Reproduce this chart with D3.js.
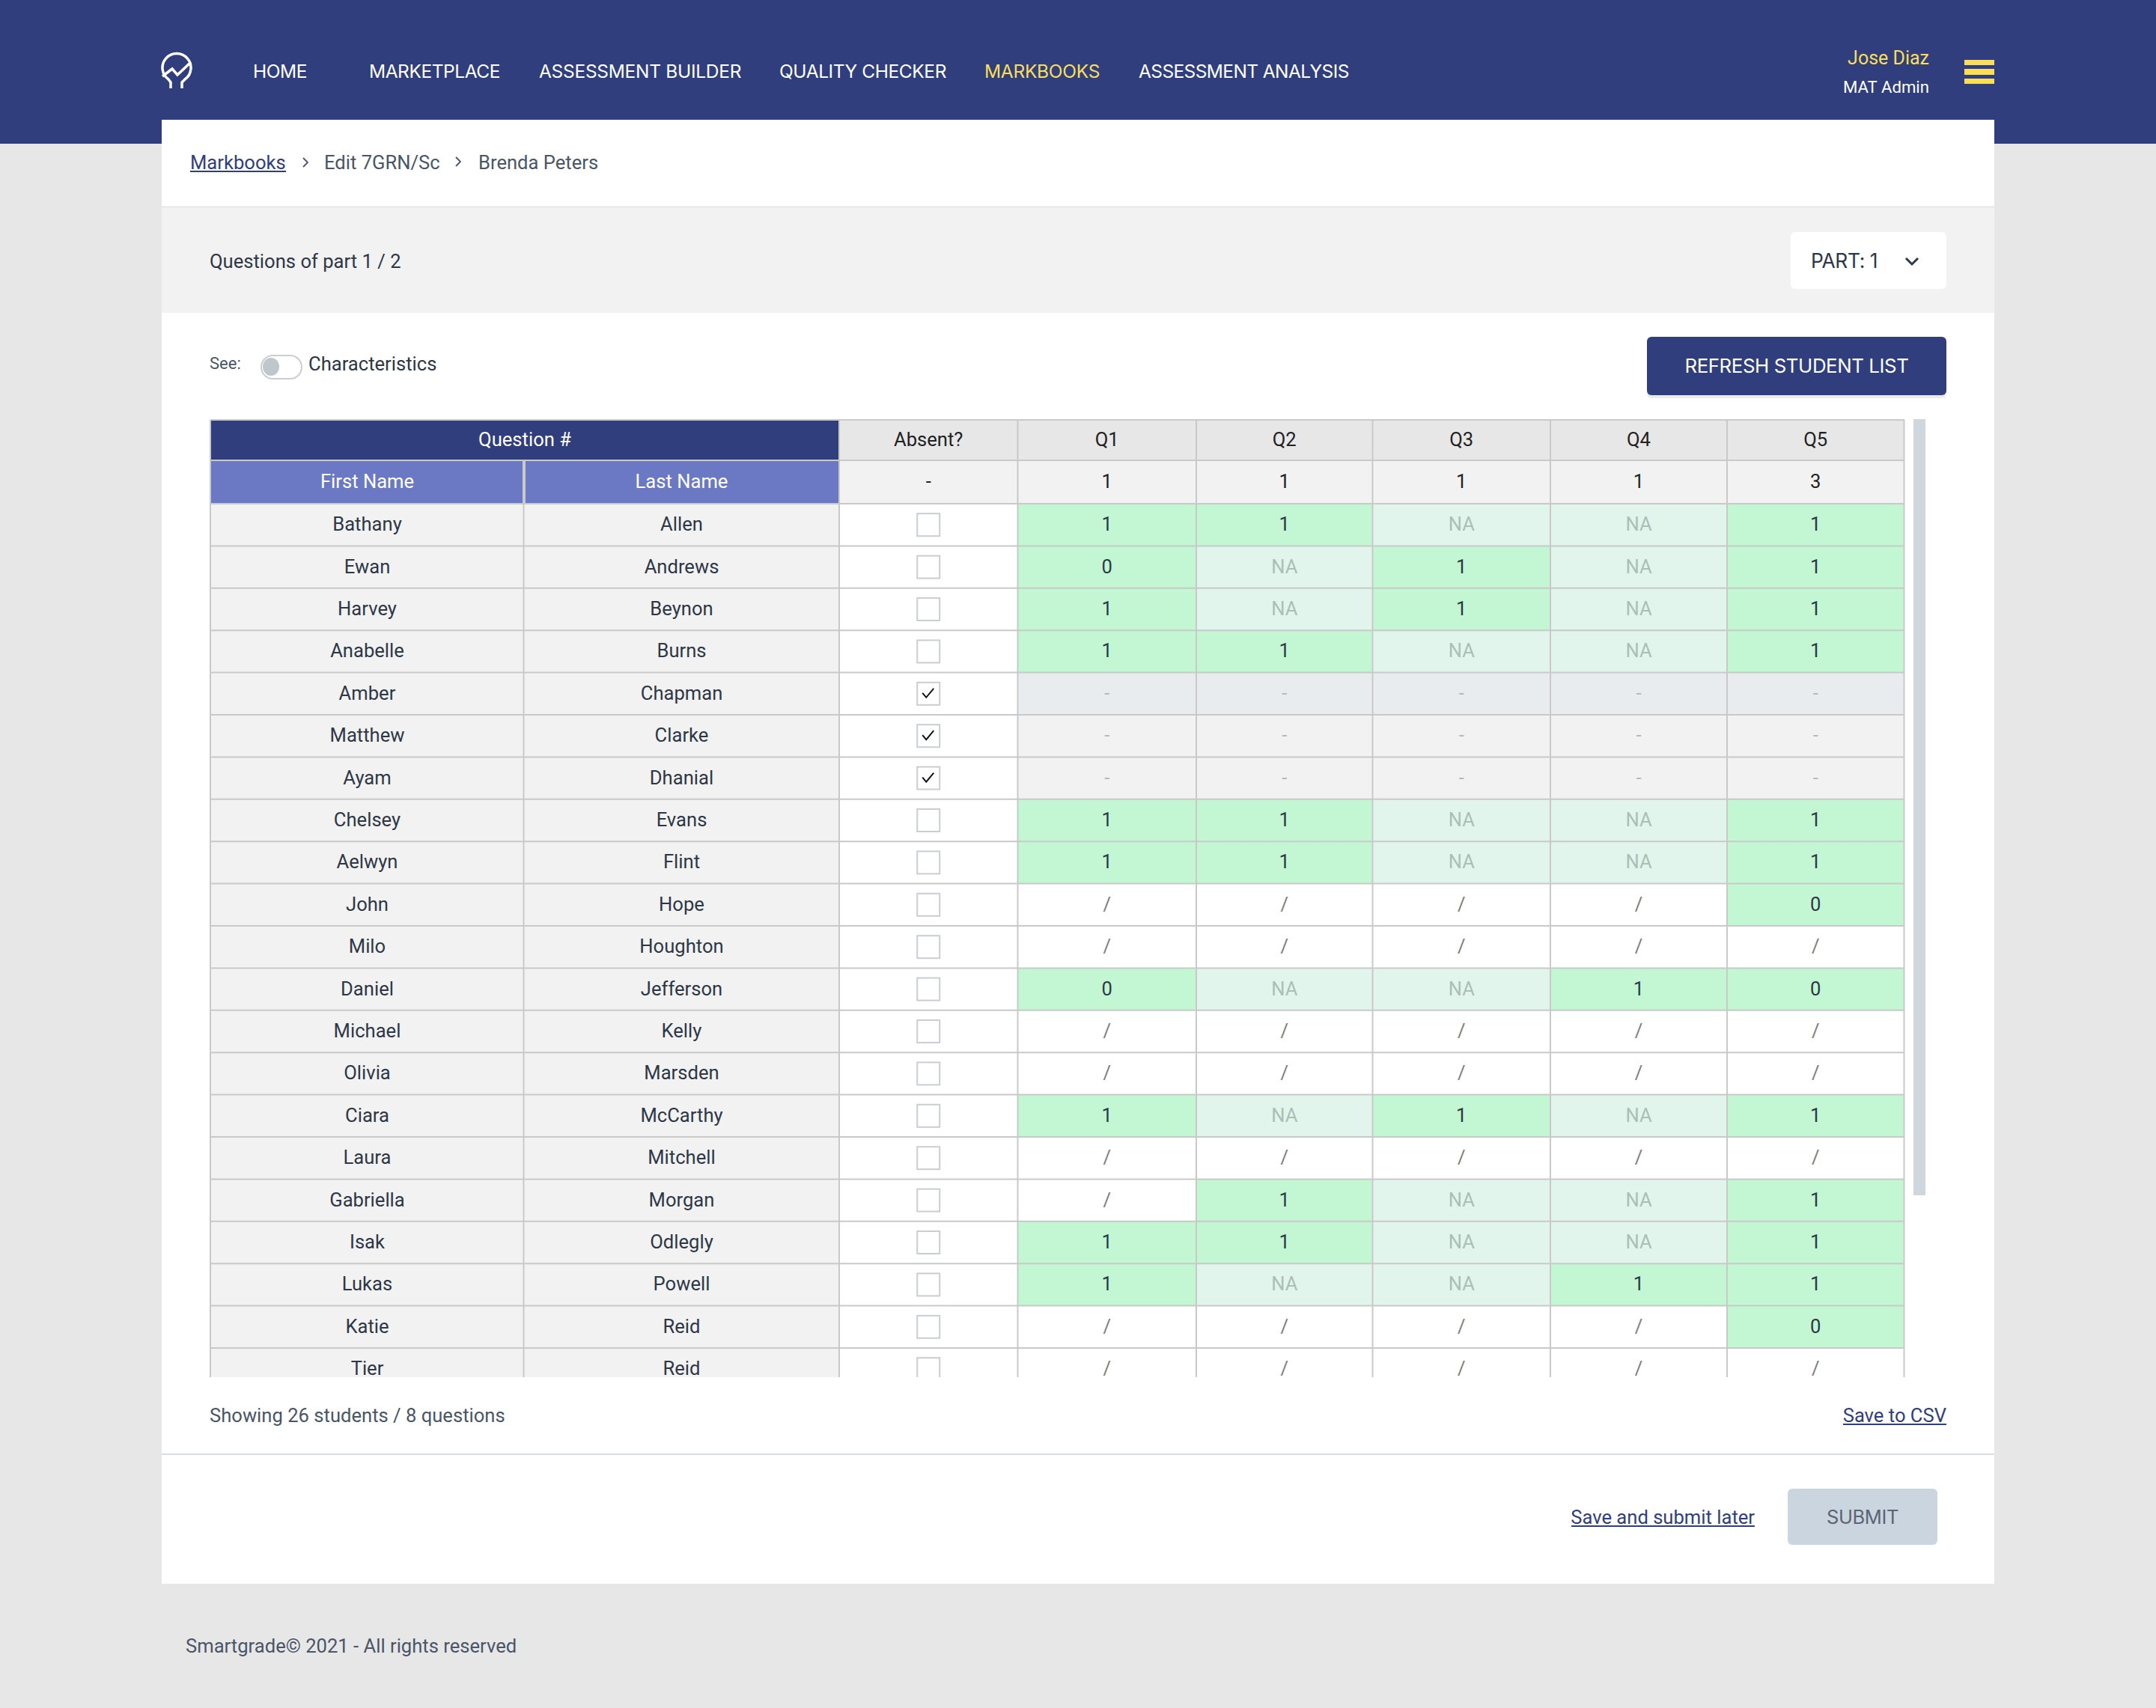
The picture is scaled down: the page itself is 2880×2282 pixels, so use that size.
<!DOCTYPE html>
<html>
<head>
  <meta charset="utf-8">
  <script src="https://d3js.org/d3.v7.min.js"></script>
  <style>
    html, body { margin: 0; padding: 0; background: #e7e7e7; }
    svg { display: block; }
    text { font-family: Roboto, sans-serif; fill: #2d3748; }
    .nav { font-family: Inter, sans-serif; letter-spacing: -0.4px; }
  </style>
</head>
<body>
<script>
// nav + page text
var navLabels = ["HOME", "MARKETPLACE", "ASSESSMENT BUILDER", "QUALITY CHECKER", "MARKBOOKS", "ASSESSMENT ANALYSIS"];
var navStarts = [338, 493, 720, 1041, 1315, 1521];
var navWidths = [72, 175, 270, 223, 154, 281];
var activeNav = "MARKBOOKS";

// table
var questions = ["Q1", "Q2", "Q3", "Q4", "Q5"];
var maxMarks = ["1", "1", "1", "1", "3"];
var firstNames = ["Bathany", "Ewan", "Harvey", "Anabelle", "Amber", "Matthew", "Ayam", "Chelsey", "Aelwyn", "John", "Milo", "Daniel", "Michael", "Olivia", "Ciara", "Laura", "Gabriella", "Isak", "Lukas", "Katie", "Tier"];
var lastNames = ["Allen", "Andrews", "Beynon", "Burns", "Chapman", "Clarke", "Dhanial", "Evans", "Flint", "Hope", "Houghton", "Jefferson", "Kelly", "Marsden", "McCarthy", "Mitchell", "Morgan", "Odlegly", "Powell", "Reid", "Reid"];
var absent = [0, 0, 0, 0, 1, 1, 1, 0, 0, 0, 0, 0, 0, 0, 0, 0, 0, 0, 0, 0, 0];
var q1 = ["1", "0", "1", "1", "-", "-", "-", "1", "1", "/", "/", "0", "/", "/", "1", "/", "/", "1", "1", "/", "/"];
var q2 = ["1", "NA", "NA", "1", "-", "-", "-", "1", "1", "/", "/", "NA", "/", "/", "NA", "/", "1", "1", "NA", "/", "/"];
var q3 = ["NA", "1", "1", "NA", "-", "-", "-", "NA", "NA", "/", "/", "NA", "/", "/", "1", "/", "NA", "NA", "NA", "/", "/"];
var q4 = ["NA", "NA", "NA", "NA", "-", "-", "-", "NA", "NA", "/", "/", "1", "/", "/", "NA", "/", "NA", "NA", "1", "/", "/"];
var q5 = ["1", "1", "1", "1", "-", "-", "-", "1", "1", "0", "/", "0", "/", "/", "1", "/", "1", "1", "1", "0", "/"];
var marks = [q1, q2, q3, q4, q5];
var highlightedRow = 4; // row under the mouse in the screenshot

var navy = "#303e7d", blue = "#6b79c5", yellow = "#f9de5b", line = "#c9c9c9", body = 25.6;

var svg = d3.select("body").append("svg")
  .attr("width", 2880)
  .attr("height", 2282);

function rect(x, y, w, h, fill, r) {
  return svg.append("rect").attr("x", x).attr("y", y).attr("width", w).attr("height", h)
    .attr("fill", fill).attr("rx", r || 0);
}
function label(x, y, t, size, color, anchor, parent) {
  return (parent || svg).append("text").attr("x", x).attr("y", y).text(t)
    .style("font-size", size + "px").style("fill", color)
    .attr("text-anchor", anchor || "start");
}
function link(x1, x2, y) {
  svg.append("line").attr("x1", x1).attr("x2", x2).attr("y1", y).attr("y2", y)
    .attr("stroke", navy).attr("stroke-width", 2);
}
function chevron(cx, cy, s, color, w, down) {
  var p = down ? [[cx - s, cy - s / 2], [cx, cy + s / 2], [cx + s, cy - s / 2]]
               : [[cx - s / 2, cy - s], [cx + s / 2, cy], [cx - s / 2, cy + s]];
  svg.append("path").attr("d", d3.line()(p)).attr("fill", "none").attr("stroke", color).attr("stroke-width", w);
}

/* page frame */
rect(0, 0, 2880, 192, navy);
rect(216, 160, 2448, 1956, "#fff");
rect(216, 275, 2448, 3, "#ececec");
rect(216, 278, 2448, 140, "#f2f2f2");
rect(216, 1942, 2448, 2, "#d8dee6");

/* nav */
svg.selectAll(".nav").data(navLabels).enter().append("text")
  .attr("class", "nav")
  .attr("x", function(d, i) { return navStarts[i]; })
  .attr("y", 104)
  .attr("textLength", function(d, i) { return navWidths[i]; })
  .style("font-size", "24.5px")
  .style("fill", function(d) { return d === activeNav ? yellow : "#fff"; })
  .text(function(d) { return d; });

// logo
var logo = svg.append("g").attr("fill", "none").attr("stroke", "#fff").attr("stroke-width", 3.5);
logo.append("path").attr("d", "M228 118V110L225 106A19 19 0 1 1 247 106L243 110V118");
logo.append("path").attr("d", "M217 102L230 92L237 100L255 83");

label(2577, 86, "Jose Diaz", 25, yellow, "end");
label(2577, 124, "MAT Admin", 22.2, "#fff", "end");
rect(2624, 80, 40, 7, yellow);
rect(2624, 92, 40, 8, yellow);
rect(2624, 105, 40, 7, yellow);

/* breadcrumb */
label(254, 226, "Markbooks", body, navy);
link(254, 382, 229);
chevron(408, 217, 6, "#4a5568", 1.8);
label(433, 226, "Edit 7GRN/Sc", body, "#4a5568");
chevron(612, 216, 6, "#4a5568", 1.8);
label(639, 226, "Brenda Peters", body, "#4a5568");

/* part bar */
label(280, 358, "Questions of part 1 / 2", body, "#2d3748");
rect(2392, 310, 208, 76, "#fff", 6);
label(2419, 358, "PART: 1", 26.4, "#2d3748").attr("class", "nav");
chevron(2554, 349, 8, "#2d3748", 3, true);

/* toggle row */
label(280, 493, "See:", 22, "#4a5568");
svg.append("rect").attr("x", 349).attr("y", 475).attr("width", 54).attr("height", 31).attr("rx", 15.5)
  .attr("fill", "#fff").attr("stroke", "#c9ced3").attr("stroke-width", 2);
svg.append("ellipse").attr("cx", 362).attr("cy", 490).attr("rx", 11).attr("ry", 12).attr("fill", "#bfc6cc");
label(412, 495, "Characteristics", body, "#2d3748");
svg.append("rect").attr("x", 2200).attr("y", 452).attr("width", 400).attr("height", 80).attr("rx", 6)
  .attr("fill", "#000").attr("opacity", 0.08);
rect(2200, 450, 400, 78, navy, 6);
label(2400, 498, "REFRESH STUDENT LIST", 25.8, "#fff", "middle").attr("class", "nav");

/* table */
var tableTop = 561, headerY = 615, bodyY = 673, clipY = 1840, textDrop = 8;
var colKeys = ["Absent?"].concat(questions);
var nameKeys = ["First Name", "Last Name"];
var nameEdges = [281, 700, 1121];
var colEdges = [1121, 1359.5, 1598, 1833.5, 2071, 2307, 2543.5];
var nameX = d3.scaleOrdinal().domain(nameKeys).range(nameEdges.slice(0, -1));
var nameW = d3.scaleOrdinal().domain(nameKeys).range(d3.pairs(nameEdges).map(function(p) { return p[1] - p[0]; }));
var x = d3.scaleOrdinal().domain(colKeys).range(colEdges.slice(0, -1));
var w = d3.scaleOrdinal().domain(colKeys).range(d3.pairs(colEdges).map(function(p) { return p[1] - p[0]; }));
var y = d3.scaleBand().domain(d3.range(firstNames.length)).range([bodyY, bodyY + 56.4 * firstNames.length]);

svg.append("clipPath").attr("id", "clip").append("rect").attr("x", 270).attr("y", tableTop - 5).attr("width", 2290).attr("height", clipY - tableTop + 5);
var table = svg.append("g").attr("clip-path", "url(#clip)");

function cell(px, py, cw, ch, fill) {
  table.append("rect").attr("x", px).attr("y", py).attr("width", cw).attr("height", ch).attr("fill", fill);
}
function cellText(cx, py, ch, t, color) {
  label(cx, py + ch / 2 + textDrop, t, body, color, "middle", table);
}

// header cells
cell(281, tableTop, 840, headerY - tableTop, navy);
cellText(701, tableTop, headerY - tableTop, "Question #", "#fff");
nameKeys.forEach(function(k) {
  cell(nameX(k), headerY, nameW(k), bodyY - headerY, blue);
  cellText(nameX(k) + nameW(k) / 2, headerY, bodyY - headerY, k, "#fff");
});
colKeys.forEach(function(k, i) {
  cell(x(k), tableTop, w(k), headerY - tableTop, "#e7e7e7");
  cell(x(k), headerY, w(k), bodyY - headerY, "#f2f2f2");
  cellText(x(k) + w(k) / 2, tableTop, headerY - tableTop, k, "#222");
  cellText(x(k) + w(k) / 2, headerY, bodyY - headerY, i === 0 ? "-" : maxMarks[i - 1], "#222");
});

function cellStyle(v, row) {
  if (v === "NA") return { fill: "#e2f5ec", color: "#abbfb6" };
  if (v === "-") return { fill: row === highlightedRow ? "#e9ecef" : "#f2f2f2", color: "#b4b9be" };
  if (v === "/") return { fill: "#fff", color: "#7d7d7d" };
  return { fill: "#c3f7d3", color: "#2d3748" };
}

// body rows
firstNames.forEach(function(name, r) {
  var ry = y(r), rh = y.bandwidth();
  cell(281, ry, 840, rh, "#f2f2f2");
  cellText(nameX("First Name") + nameW("First Name") / 2, ry, rh, name, "#2d3748");
  cellText(nameX("Last Name") + nameW("Last Name") / 2, ry, rh, lastNames[r], "#2d3748");
  cell(x("Absent?"), ry, w("Absent?"), rh, "#fff");
  marks.forEach(function(series, q) {
    var s = cellStyle(series[r], r);
    var k = questions[q];
    cell(x(k), ry, w(k), rh, s.fill);
    cellText(x(k) + w(k) / 2, ry, rh, series[r], s.color);
  });
  // checkbox
  var bx = x("Absent?") + w("Absent?") / 2, by = ry + rh / 2;
  table.append("rect").attr("x", bx - 15).attr("y", by - 15).attr("width", 30).attr("height", 30)
    .attr("fill", "#fff").attr("stroke", "#c9ced3").attr("stroke-width", 2);
  if (absent[r]) {
    table.append("path").attr("d", d3.line()([[bx - 8, by - 1], [bx - 3, by + 5], [bx + 7, by - 7]]))
      .attr("fill", "none").attr("stroke", "#111").attr("stroke-width", 2);
  }
});

// grid lines
var bottom = bodyY + 56.4 * firstNames.length;
function gridV(px, y1, color) {
  table.append("line").attr("x1", px).attr("x2", px).attr("y1", y1).attr("y2", bottom).attr("stroke", color || line).attr("stroke-width", 2);
}
function gridH(py, x1, x2) {
  table.append("line").attr("x1", x1).attr("x2", x2).attr("y1", py).attr("y2", py).attr("stroke", line).attr("stroke-width", 2);
}
gridH(tableTop, 281, 2544);
gridH(headerY, 281, 2544);
d3.range(0, firstNames.length + 1).forEach(function(r) { gridH(bodyY + 56.4 * r, 281, 2544); });
gridV(281, tableTop);
gridV(699.5, bodyY);
colEdges.forEach(function(e) { gridV(e, tableTop); });
table.append("line").attr("x1", 700).attr("x2", 700).attr("y1", headerY).attr("y2", bodyY).attr("stroke", line).attr("stroke-width", 4);

// scrollbar
rect(2556, 560, 16, 1037, "#cfd6dc");

/* footer of the panel */
label(280, 1900, "Showing 26 students / 8 questions", body, "#4a5568");
label(2600, 1900, "Save to CSV", body, navy, "end");
link(2462, 2600, 1903);
label(2344, 2036, "Save and submit later", body, navy, "end");
link(2099, 2344, 2039);
rect(2388, 1989, 200, 75, "#cbd5df", 6);
label(2488, 2036, "SUBMIT", 25.5, "#5a6472", "middle").attr("class", "nav");
label(248, 2208, "Smartgrade\u00a9 2021 - All rights reserved", body, "#4a5568");
</script>
</body>
</html>
